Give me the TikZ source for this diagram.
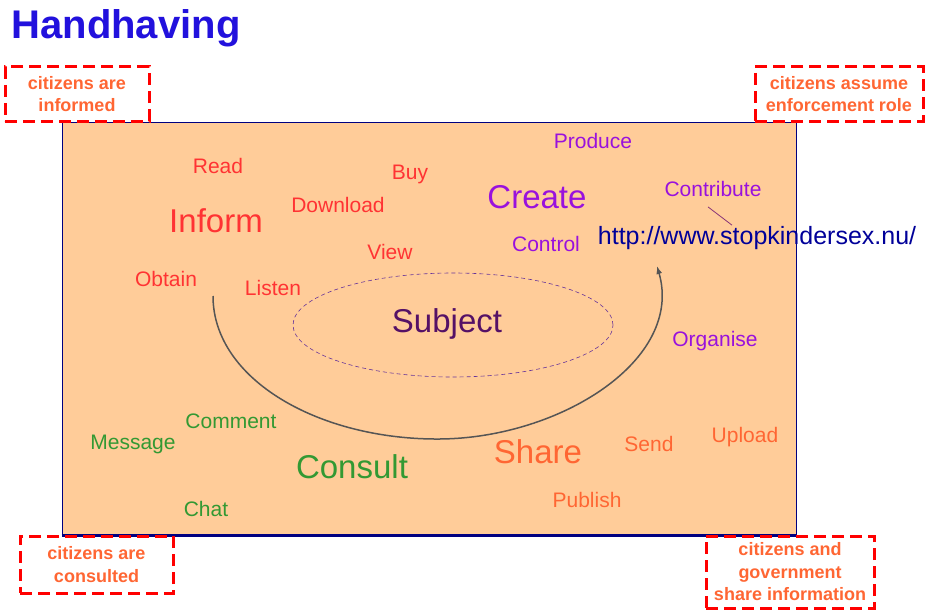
\documentclass[tikz,border=0pt]{standalone}
\usepackage{fontspec}
\setmainfont{Liberation Sans}
\usetikzlibrary{arrows.meta,shapes.geometric}
\definecolor{cTitle}{RGB}{34,17,221}
\definecolor{cPeach}{RGB}{255,204,153}
\definecolor{cNavy}{RGB}{0,0,128}
\definecolor{cDash}{RGB}{255,0,0}
\definecolor{cNote}{RGB}{255,102,51}
\definecolor{cRed}{RGB}{255,51,51}
\definecolor{cPurple}{RGB}{153,17,221}
\definecolor{cGreen}{RGB}{51,153,51}
\definecolor{cOrange}{RGB}{255,102,51}
\definecolor{cSubj}{RGB}{85,17,102}
\definecolor{cUrl}{RGB}{0,0,153}
\definecolor{cArc}{RGB}{85,85,85}
\definecolor{cRing}{RGB}{102,51,153}
\definecolor{cLink}{RGB}{136,51,119}
\begin{document}
\begin{tikzpicture}[x=1pt,y=-1pt,
  word/.style={inner sep=0pt, font=\fontsize{21}{25}\selectfont},
  bigword/.style={inner sep=0pt, font=\fontsize{33}{38}\selectfont},
  infw/.style={text=cRed},
  crew/.style={text=cPurple},
  conw/.style={text=cGreen},
  shaw/.style={text=cOrange},
  note/.style={draw=cDash, line width=3pt, dash pattern=on 12pt off 6pt,
    text=cNote, font=\bfseries\fontsize{18}{22.5}\selectfont, align=center, inner sep=0pt},
]
\useasboundingbox (0,0) rectangle (929,610);

\node[inner sep=0pt, text=cTitle, font=\bfseries\fontsize{40}{46}\selectfont] (title) at (126,28) {Handhaving};

\node[draw=cNavy, line width=1pt, fill=cPeach, minimum width=734pt, minimum height=413pt, inner sep=0pt] (panel) at (429,328.5) {};
\draw[cNavy, line width=2.5pt] (panel.south west) -- (panel.south east);

\node[note, minimum width=144pt, minimum height=54pt] (n1) at (77,94) {citizens are\\informed};
\node[note, minimum width=168pt, minimum height=54pt] (n2) at (839,94) {citizens assume\\enforcement role};
\node[note, minimum width=153pt, minimum height=57pt] (n3) at (96.5,564.5) {citizens are\\consulted};
\node[note, minimum width=168pt, minimum height=72pt] (n4) at (790,572) {citizens and\\government\\share information};

\node[ellipse, draw=cRing, line width=0.6pt, dash pattern=on 4pt off 3pt, minimum width=320pt, minimum height=104pt] (ring) at (453,325) {};
\node[bigword, text=cSubj] (subj) at (447,324) {Subject};

\node[word, infw] (read) at (218,166) {Read};
\node[word, infw] (buy) at (410,174) {Buy};
\node[word, infw] (down) at (338,205) {Download};
\node[bigword, infw] (inform) at (216,221) {Inform};
\node[word, infw] (view) at (390,252) {View};
\node[word, infw] (obtain) at (166,279) {Obtain};
\node[word, infw] (listen) at (273,288) {Listen};

\node[word, crew] (produce) at (593,141) {Produce};
\node[bigword, crew] (create) at (537,197) {Create};
\node[word, crew] (contrib) at (713,189) {Contribute};
\node[word, crew] (control) at (546,244) {Control};
\node[word, crew] (organise) at (715,341) {Organise};

\node[word, conw] (comment) at (231,421) {Comment};
\node[word, conw] (message) at (133,444) {Message};
\node[bigword, conw] (consult) at (352,467) {Consult};
\node[word, conw] (chat) at (206,509) {Chat};

\node[bigword, shaw] (share) at (538,452) {Share};
\node[word, shaw] (send) at (649,444) {Send};
\node[word, shaw] (upload) at (745,437) {Upload};
\node[word, shaw] (publish) at (587,500) {Publish};

\node[inner sep=0pt, text=cUrl, font=\fontsize{25}{30}\selectfont] (url) at (757,238) {http://www.stopkindersex.nu/};

\draw[cLink, line width=0.8pt] ([shift={(-5,10)}]contrib.south) -- ([shift={(-25,-1)}]url.north);

\coordinate (arcS) at (213,296);
\coordinate (arcB) at (440,439);
\coordinate (arcE) at (657,266);
\draw[cArc, line width=1.5pt, -{Latex[length=8pt,width=6pt]}] (arcS) .. controls (213,380) and (320,440) .. (arcB) .. controls (560,438) and (684,360) .. (arcE);
\end{tikzpicture}
\end{document}
